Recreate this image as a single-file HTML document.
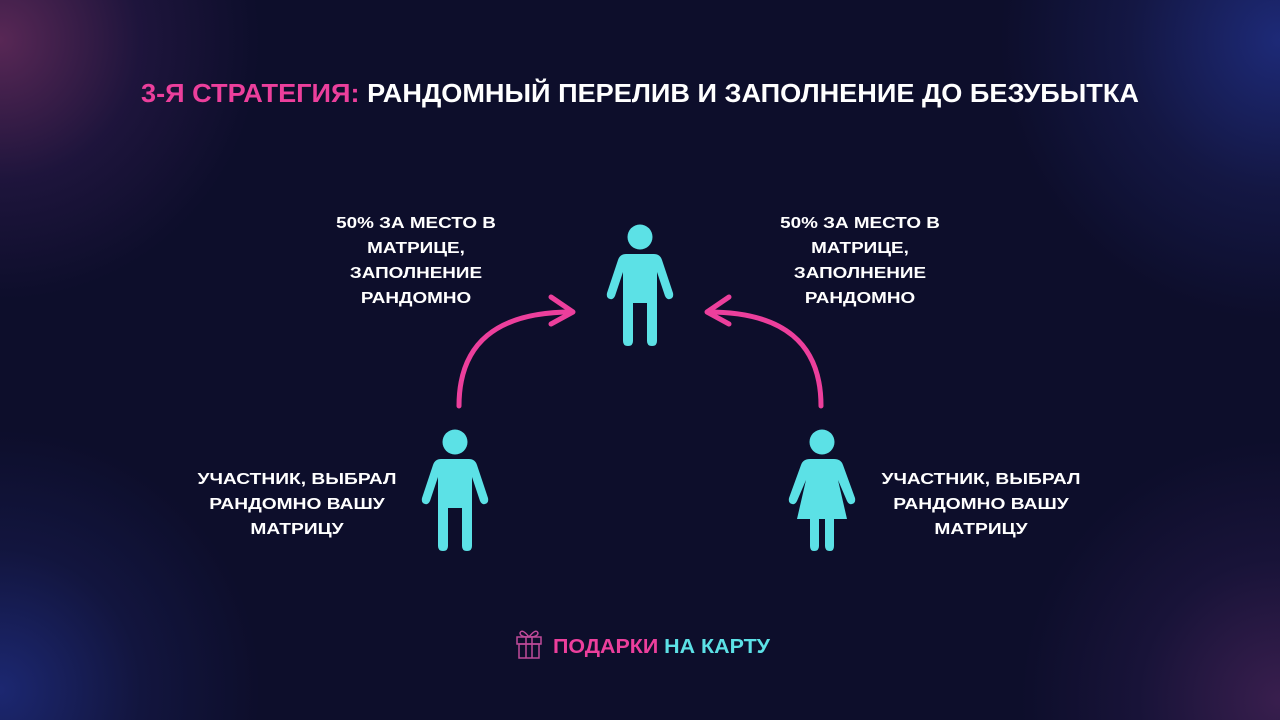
<!DOCTYPE html>
<html><head><meta charset="utf-8"><style>
html,body{margin:0;padding:0;width:1280px;height:720px;overflow:hidden;background:#0d0e2b}
.bg{position:absolute;inset:0;background:
radial-gradient(circle at 0px 40px,rgba(150,60,120,.55),rgba(80,40,110,.25) 140px,transparent 260px),
radial-gradient(circle at 1280px 40px,rgba(40,60,170,.6),rgba(40,50,140,.25) 150px,transparent 280px),
radial-gradient(circle at 0px 690px,rgba(40,60,170,.55),rgba(40,50,140,.2) 140px,transparent 260px),
radial-gradient(circle at 1280px 700px,rgba(110,50,120,.45),rgba(70,40,110,.2) 140px,transparent 260px),
#0d0e2b}
svg{position:absolute;left:0;top:0}
text{font-family:"Liberation Sans",sans-serif;font-weight:bold}
</style></head><body><div class="bg"></div>
<svg width="1280" height="720" viewBox="0 0 1280 720">
<defs>
<g id="man" fill="#5ce1e6">
<circle cx="0" cy="0" r="12.5"/>
<path d="M-14,17 H14 Q20,17 22,23 L33,56 Q34,61 30,62 Q27,63 25,59 L17,35 V104 Q17,109 12,109 Q7,109 7,104 V66 H-7 V104 Q-7,109 -12,109 Q-17,109 -17,104 V35 L-25,59 Q-27,63 -30,62 Q-34,61 -33,56 L-22,23 Q-20,17 -14,17 Z"/>
</g>
<g id="woman" fill="#5ce1e6">
<circle cx="0" cy="0" r="12.5"/>
<path d="M-12,17 H12 Q19,17 21,23 L33,56 Q34,61 30,62 Q27,63 25,59 L16,38 L25,77 H12 V104 Q12,109 8,109 Q3,109 3,104 V77 H-3 V104 Q-3,109 -8,109 Q-12,109 -12,104 V77 H-25 L-16,38 L-25,59 Q-27,63 -30,62 Q-34,61 -33,56 L-21,23 Q-19,17 -12,17 Z"/>
</g>
<g id="top" font-size="16" fill="#fff" text-anchor="middle">
<text x="0" y="228">50% ЗА МЕСТО В</text>
<text x="0" y="253">МАТРИЦЕ,</text>
<text x="0" y="278">ЗАПОЛНЕНИЕ</text>
<text x="0" y="303">РАНДОМНО</text>
</g>
<g id="bot" font-size="16" fill="#fff" text-anchor="middle">
<text x="0" y="484">УЧАСТНИК, ВЫБРАЛ</text>
<text x="0" y="509">РАНДОМНО ВАШУ</text>
<text x="0" y="534">МАТРИЦУ</text>
</g>
</defs>
<text x="640" y="102" text-anchor="middle" font-size="26" textLength="998" lengthAdjust="spacingAndGlyphs" fill="#fff"><tspan fill="#ec3f9c">3-Я СТРАТЕГИЯ:</tspan> РАНДОМНЫЙ ПЕРЕЛИВ И ЗАПОЛНЕНИЕ ДО БЕЗУБЫТКА</text>

<use href="#man" x="640" y="237"/>
<use href="#man" x="455" y="442"/>
<use href="#woman" x="822" y="442"/>

<g fill="none" stroke="#ec3f9c" stroke-width="5" stroke-linecap="round" stroke-linejoin="round">
<path d="M459,406 Q459,312 572,312"/>
<path d="M551,297 L573,312 L551,324"/>
<path d="M821,406 Q821,312 708,312"/>
<path d="M729,297 L707,312 L729,324"/>
</g>

<use href="#top" transform="translate(416,0) scale(1.18,1)"/>
<use href="#top" transform="translate(860,0) scale(1.18,1)"/>
<use href="#bot" transform="translate(297,0) scale(1.2,1)"/>
<use href="#bot" transform="translate(981,0) scale(1.2,1)"/>

<g fill="none" stroke="#c04a9a" stroke-width="1.5">
<rect x="517" y="637" width="24" height="7"/>
<rect x="519" y="644" width="20" height="14"/>
<line x1="526" y1="637" x2="526" y2="658"/><line x1="532" y1="637" x2="532" y2="658"/>
<path d="M529,637 Q522,628 520,633 Q520,637 529,637 Q536,628 538,633 Q538,637 529,637"/>
</g>
<text x="553" y="653" font-size="20" textLength="217" lengthAdjust="spacingAndGlyphs"><tspan fill="#ec3f9c">ПОДАРКИ</tspan> <tspan fill="#5ce1e6">НА КАРТУ</tspan></text>
</svg>
</body></html>
